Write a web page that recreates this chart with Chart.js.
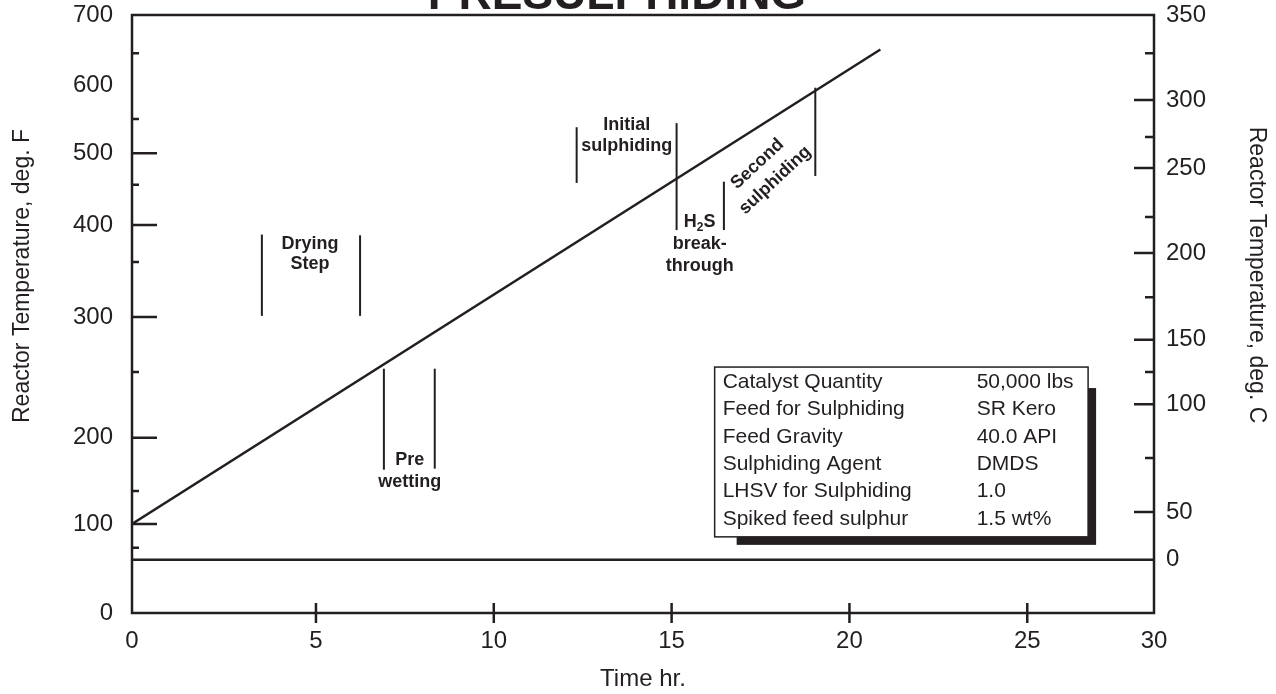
<!DOCTYPE html>
<html>
<head>
<meta charset="utf-8">
<script src="https://cdn.jsdelivr.net/npm/chart.js@4.4.1/dist/chart.umd.min.js"></script>
<style>
  html, body { margin: 0; padding: 0; background: #ffffff; }
</style>
</head>
<body>
<canvas id="chart" width="1276" height="694"></canvas>
<script>
// time axis, hours, and where each tick sits along the axis (0..1)
const timeTicks   = [0, 5, 10, 15, 20, 25, 30];
const timeTickPos = [0, 0.180, 0.354, 0.528, 0.702, 0.876, 1];

// left axis, deg. F  (the printed scale is uneven, so keep the tick positions)
const degFTicks   = [0, 50, 100, 150, 200, 250, 300, 350, 400, 450, 500, 550, 600, 650, 700];
const degFTickPos = [0, 0.109, 0.149, 0.204, 0.293, 0.403, 0.495, 0.587, 0.649, 0.716, 0.769, 0.826, 0.883, 0.936, 1];
const degFMajor   = [100, 200, 300, 400, 500];
const degFMinor   = [50, 150, 250, 350, 450, 550, 650];

// right axis, deg. C
const degCTicks   = [-50, 0, 50, 75, 100, 125, 150, 175, 200, 225, 250, 275, 300, 325, 350];
const degCTickPos = [0, 0.089, 0.169, 0.259, 0.349, 0.403, 0.457, 0.528, 0.602, 0.662, 0.744, 0.796, 0.858, 0.936, 1];
const degCMajor   = [50, 100, 150, 200, 250, 300];
const degCMinor   = [75, 125, 175, 225, 275, 325];

// heating ramp
const rampTime = [0, 20.87];
const rampTemp = [100, 655];

// step markers (vertical bars), time and deg. F span
const markerTime = [3.53, 6.24, 6.91, 8.34, 12.33, 15.14, 16.47, 19.04];
const markerFrom = [301, 301, 170, 171, 453, 393, 393, 464];
const markerTo   = [387, 386, 253, 253, 538, 544, 455, 596];

// step labels: first baseline at (time, deg. F)
const stepNames = [['Drying', 'Step'], ['Pre', 'wetting'], ['Initial', 'sulphiding'], ['H_2S', 'break-', 'through']];
const stepTime  = [4.84, 7.64, 13.74, 15.79];
const stepTemp  = [367.6, 174.5, 533.8, 397.3];
const stepGap   = [20, 22, 21, 22];

// rotated label
const secondNames = ['Second', 'sulphiding'];
const secondTime  = 17.66;
const secondTemp  = 470;

// conditions box
const boxLabels = ['Catalyst Quantity', 'Feed for Sulphiding', 'Feed Gravity', 'Sulphiding Agent', 'LHSV for Sulphiding', 'Spiked feed sulphur'];
const boxValues = ['50,000 lbs', 'SR Kero', '40.0 API', 'DMDS', '1.0', '1.5 wt%'];
const boxTime   = [16.21, 27.40];
const boxTemp   = [72.9, 254.5];

const ink = '#231f20';
const family = "'Liberation Sans', Arial, Helvetica, sans-serif";

const axisKnots = {
  x:  [timeTicks, timeTickPos],
  yF: [degFTicks, degFTickPos],
  yC: [degCTicks, degCTickPos]
};

// piecewise linear scale so the uneven printed axes line up
class KnotScale extends Chart.LinearScale {
  getPixelForValue(value) {
    const [vals, pos] = axisKnots[this.id];
    let i = 1;
    while (i < vals.length - 1 && value > vals[i]) i++;
    const f = pos[i - 1] + (value - vals[i - 1]) / (vals[i] - vals[i - 1]) * (pos[i] - pos[i - 1]);
    return this.getPixelForDecimal(f);
  }
  getValueForPixel(pixel) {
    const [vals, pos] = axisKnots[this.id];
    const f = this.getDecimalForPixel(pixel);
    let i = 1;
    while (i < pos.length - 1 && f > pos[i]) i++;
    return vals[i - 1] + (f - pos[i - 1]) / (pos[i] - pos[i - 1]) * (vals[i] - vals[i - 1]);
  }
}
KnotScale.id = 'knots';
KnotScale.defaults = Chart.LinearScale.defaults;
Chart.register(KnotScale);

Chart.defaults.font.family = family;
Chart.defaults.color = ink;

const lineStyle = { showLine: true, pointRadius: 0, borderColor: ink, borderWidth: 2.5, tension: 0, xAxisID: 'x' };

const datasets = [
  Object.assign({ data: rampTime.map((t, i) => ({ x: t, y: rampTemp[i] })), yAxisID: 'yF' }, lineStyle),
  Object.assign({ data: [{ x: 0, y: 0 }, { x: 30, y: 0 }], yAxisID: 'yC' }, lineStyle)
];
markerTime.forEach((t, i) => {
  datasets.push(Object.assign({
    data: [{ x: t, y: markerFrom[i] }, { x: t, y: markerTo[i] }],
    yAxisID: 'yF'
  }, lineStyle, { borderWidth: 2 }));
});

function fixedTicks(values) {
  return scale => { scale.ticks = values.map(v => ({ value: v })); };
}

// pin the scale boxes so the plot area matches the original frame
function fitTo(prop, size) {
  return scale => {
    scale[prop] = size;
    scale.paddingTop = 0;
    scale.paddingBottom = 0;
    scale.paddingLeft = 0;
    scale.paddingRight = 0;
  };
}

function drawLine(ctx, text, cx, y, size) {
  const parts = text.split('_');
  ctx.textAlign = 'left';
  if (parts.length === 1) {
    const w = ctx.measureText(text).width;
    ctx.fillText(text, cx - w / 2, y);
    return;
  }
  const head = parts[0], sub = parts[1].charAt(0), tail = parts[1].slice(1);
  const big = 'bold ' + size + 'px ' + family;
  const small = 'bold ' + Math.round(size * 0.68) + 'px ' + family;
  ctx.font = big;
  const wh = ctx.measureText(head).width, wt = ctx.measureText(tail).width;
  ctx.font = small;
  const ws = ctx.measureText(sub).width;
  let x = cx - (wh + ws + wt) / 2;
  ctx.font = big; ctx.fillText(head, x, y); x += wh;
  ctx.font = small; ctx.fillText(sub, x, y + 4); x += ws;
  ctx.font = big; ctx.fillText(tail, x, y);
}

const decorPlugin = {
  id: 'decor',
  afterDraw(chart) {
    const ctx = chart.ctx;
    const { x, yF, yC } = chart.scales;
    const area = chart.chartArea;
    ctx.save();
    ctx.strokeStyle = ink;
    ctx.fillStyle = ink;

    // frame
    ctx.lineWidth = 2.5;
    ctx.strokeRect(area.left, area.top, area.right - area.left, area.bottom - area.top);

    // tick marks, drawn inward
    ctx.lineWidth = 2.5;
    ctx.beginPath();
    degFMajor.forEach(v => { const p = yF.getPixelForValue(v); ctx.moveTo(area.left, p); ctx.lineTo(area.left + 25, p); });
    degFMinor.forEach(v => { const p = yF.getPixelForValue(v); ctx.moveTo(area.left, p); ctx.lineTo(area.left + 7, p); });
    degCMajor.forEach(v => { const p = yC.getPixelForValue(v); ctx.moveTo(area.right, p); ctx.lineTo(area.right - 20, p); });
    degCMinor.forEach(v => { const p = yC.getPixelForValue(v); ctx.moveTo(area.right, p); ctx.lineTo(area.right - 9, p); });
    timeTicks.slice(1, -1).forEach(v => { const p = x.getPixelForValue(v); ctx.moveTo(p, area.bottom - 10); ctx.lineTo(p, area.bottom + 10); });
    ctx.stroke();

    // title, cut by the top edge
    ctx.font = 'bold 46px ' + family;
    ctx.textAlign = 'center';
    ctx.textBaseline = 'alphabetic';
    ctx.fillText('PRESULPHIDING', 617, 9);

    // axis titles
    ctx.font = '23px ' + family;
    ctx.save();
    ctx.translate(29, (area.top + area.bottom) / 2 - 38);
    ctx.rotate(-Math.PI / 2);
    ctx.fillText('Reactor Temperature, deg. F', 0, 0);
    ctx.restore();
    ctx.save();
    ctx.translate(1250, (area.top + area.bottom) / 2 - 39);
    ctx.rotate(Math.PI / 2);
    ctx.fillText('Reactor Temperature, deg. C', 0, 0);
    ctx.restore();

    // step labels
    stepNames.forEach((lines, i) => {
      const cx = x.getPixelForValue(stepTime[i]);
      const y0 = yF.getPixelForValue(stepTemp[i]);
      lines.forEach((s, j) => {
        ctx.font = 'bold 18px ' + family;
        drawLine(ctx, s, cx, y0 + j * stepGap[i], 18);
      });
    });

    // rotated label
    ctx.save();
    ctx.translate(x.getPixelForValue(secondTime), yF.getPixelForValue(secondTemp));
    ctx.rotate(-43 * Math.PI / 180);
    ctx.font = 'bold 18px ' + family;
    ctx.textAlign = 'center';
    ctx.textBaseline = 'middle';
    ctx.fillText(secondNames[0], -1, -12);
    ctx.fillText(secondNames[1], 1, 12);
    ctx.restore();

    // conditions box with drop shadow
    const bl = x.getPixelForValue(boxTime[0]), br = x.getPixelForValue(boxTime[1]);
    const bt = yF.getPixelForValue(boxTemp[1]), bb = yF.getPixelForValue(boxTemp[0]);
    ctx.fillStyle = ink;
    ctx.fillRect(bl + 22, bt + 21, br - bl - 14, bb - bt - 13);
    ctx.fillStyle = '#ffffff';
    ctx.fillRect(bl, bt, br - bl, bb - bt);
    ctx.lineWidth = 1.5;
    ctx.strokeRect(bl, bt, br - bl, bb - bt);
    ctx.fillStyle = ink;
    ctx.font = '21px ' + family;
    ctx.textAlign = 'left';
    ctx.textBaseline = 'alphabetic';
    boxLabels.forEach((s, i) => {
      const y = bt + 21 + i * 27.3;
      ctx.fillText(s, bl + 8, y);
      ctx.fillText(boxValues[i], bl + 262, y);
    });

    ctx.restore();
  }
};

new Chart(document.getElementById('chart'), {
  type: 'scatter',
  data: { datasets },
  options: {
    responsive: false,
    animation: false,
    events: [],
    layout: { padding: { top: 15, left: 0, right: 0, bottom: 0 } },
    plugins: { legend: { display: false }, tooltip: { enabled: false }, title: { display: false } },
    scales: {
      x: {
        type: 'knots', position: 'bottom', min: 0, max: 30,
        grid: { display: false, drawTicks: false },
        border: { display: false },
        afterBuildTicks: fixedTicks(timeTicks),
        afterFit: fitTo('height', 81),
        ticks: { autoSkip: false, maxRotation: 0, padding: 14, font: { size: 24 }, callback: v => String(v) },
        title: { display: true, text: 'Time hr.', font: { size: 24 }, padding: { top: 0, bottom: 0 } }
      },
      yF: {
        type: 'knots', position: 'left', min: 0, max: 700,
        grid: { display: false, drawTicks: false },
        border: { display: false },
        afterBuildTicks: fixedTicks(degFTicks),
        afterFit: fitTo('width', 132),
        ticks: { autoSkip: false, padding: 19, font: { size: 24 }, callback: v => (v % 100 === 0 ? String(v) : '') }
      },
      yC: {
        type: 'knots', position: 'right', min: -50, max: 350,
        grid: { display: false, drawTicks: false },
        border: { display: false },
        afterBuildTicks: fixedTicks(degCTicks),
        afterFit: fitTo('width', 122),
        ticks: { autoSkip: false, padding: 12, font: { size: 24 }, callback: v => (v >= 0 && v % 50 === 0 ? String(v) : '') }
      }
    }
  },
  plugins: [decorPlugin]
});
</script>
</body>
</html>
